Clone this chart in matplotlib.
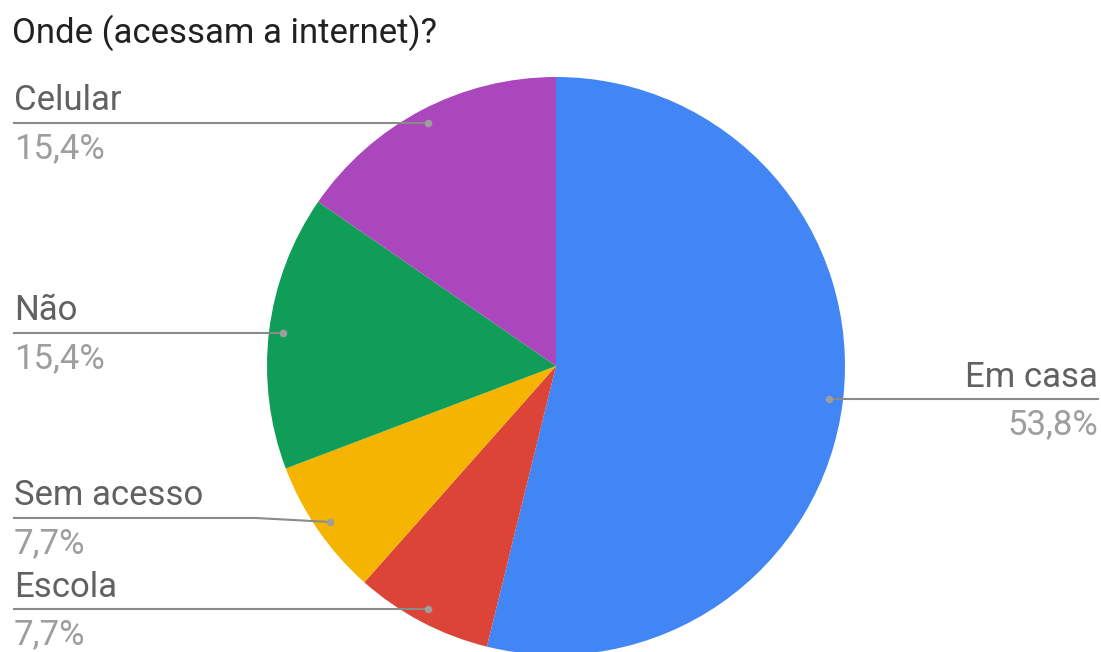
import numpy as np
import matplotlib.pyplot as plt

plt.rcParams["font.family"] = ["Roboto", "DejaVu Sans"]

title = "Onde (acessam a internet)?"
labels = ["Em casa", "Escola", "Sem acesso", "Não", "Celular"]
counts = [7, 1, 1, 2, 2]
colors = ["#4285F4", "#DB4437", "#F4B400", "#0F9D58", "#AB47BC"]

W, H = 1101, 652
fig = plt.figure(figsize=(W / 100, H / 100), dpi=100)
ax = fig.add_axes([0, 0, 1, 1])

cx, cy, R = 556, H - 366, 289
wedges, _ = ax.pie(counts, colors=colors, startangle=90, counterclock=False,
                   center=(cx, cy), radius=R,
                   wedgeprops=dict(linewidth=0))

total = sum(counts)
pcts = [100 * c / total for c in counts]

# leader lines, dots and labels
shift = [0, 0, 4, 0, 0]  # small bend for "Sem acesso"
line_c = "#8a8a8a"
for w, lab, p, s in zip(wedges, labels, pcts, shift):
    ang = np.deg2rad((w.theta1 + w.theta2) / 2)
    dx = cx + 0.95 * R * np.cos(ang)
    dy = cy + 0.95 * R * np.sin(ang)
    ly = dy + s
    pct = f"{p:.1f}".replace(".", ",") + "%"
    if dx > cx:
        x_end = W - 3
        ax.plot([dx, x_end], [ly, ly], color=line_c, lw=1.5, zorder=3)
        ha = "right"
    else:
        x_end = 14
        if s:
            ax.plot([x_end, 255, dx], [ly, ly, dy], color=line_c, lw=1.5, zorder=3)
        else:
            ax.plot([x_end, dx], [ly, ly], color=line_c, lw=1.5, zorder=3)
        ha = "left"
    ax.scatter([dx], [dy], s=30, color="#9e9e9e", zorder=4, linewidths=0)
    ax.text(x_end, ly + 12.5, lab, ha=ha, va="baseline", fontsize=25, color="#616161")
    ax.text(x_end, ly - 35, pct, ha=ha, va="baseline", fontsize=25, color="#9e9e9e")

ax.text(12, H - 43, title, ha="left", va="baseline", fontsize=25, color="#212121")

ax.set_xlim(0, W)
ax.set_ylim(0, H)
ax.set_aspect("auto")
ax.axis("off")

fig.savefig("out.png", dpi=100)
